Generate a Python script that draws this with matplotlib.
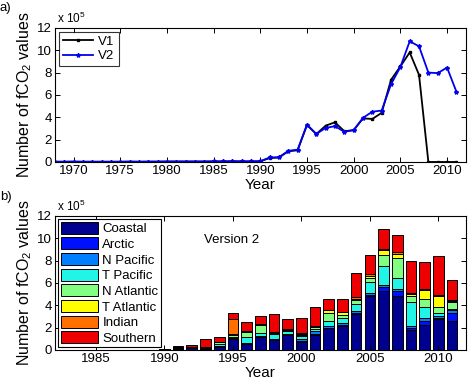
import numpy as np
import matplotlib.pyplot as plt

plt.rcParams['font.family'] = ['Liberation Sans', 'DejaVu Sans']
plt.rcParams['mathtext.fontset'] = 'custom'
plt.rcParams['mathtext.rm'] = 'Liberation Sans'

# panel a: yearly counts (x 1e5)
years_a = np.arange(1968, 2012)
v1 = [0.02, 0.02, 0.03, 0.02, 0.02, 0.02, 0.02, 0.02, 0.03, 0.02, 0.03, 0.03,
      0.04, 0.04, 0.04, 0.04, 0.04, 0.05, 0.05, 0.06, 0.05, 0.05, 0.06,
      0.35, 0.4, 0.95, 1.05, 3.3, 2.5, 3.25, 3.55, 2.75, 2.85, 3.9, 3.85,
      4.4, 7.35, 8.55, 9.8, 7.8, 0.0, 0.0, 0.0, 0.0]
v2 = [0.02, 0.02, 0.03, 0.02, 0.02, 0.02, 0.02, 0.02, 0.03, 0.02, 0.03, 0.03,
      0.04, 0.04, 0.04, 0.04, 0.04, 0.05, 0.05, 0.06, 0.05, 0.05, 0.06,
      0.4, 0.42, 1.0, 1.1, 3.35, 2.5, 3.05, 3.2, 2.7, 2.85, 3.95, 4.5,
      4.6, 6.95, 8.5, 10.8, 10.35, 8.0, 7.95, 8.45, 6.3]

# panel b: version 2 by region (x 1e5)
years_b = np.arange(1982, 2012)
regions = ['Coastal', 'Arctic', 'N Pacific', 'T Pacific', 'N Atlantic',
           'T Atlantic', 'Indian', 'Southern']
colors = ['#00008F', '#0010FF', '#0080FF', '#20F5E8', '#80FF80',
          '#FFFF00', '#FF7000', '#EE0000']
#            1982..1990 (9 yrs)                      1991..2011
coastal  = [0.01, 0.01, 0.01, 0.02, 0.02, 0.03, 0.02, 0.03, 0.05,
            0.1, 0.15, 0.12, 0.3, 0.96, 0.55, 1.15, 0.85, 1.32, 0.72, 1.35,
            1.95, 2.1, 3.2, 4.8, 5.25, 4.8, 1.8, 2.2, 2.75, 2.6]
arctic   = [0]*9 + [0.02, 0.025, 0.02, 0.02, 0.05, 0.03, 0.04, 0.05, 0.04,
            0.1, 0.1, 0.05, 0.15, 0.1, 0.15, 0.4, 0.45, 0.15, 0.4, 0.1, 0.7]
npacific = [0]*9 + [0.02, 0.025, 0.02, 0.03, 0.08, 0.07, 0.08, 0.1, 0.1,
            0.12, 0.2, 0.15, 0.2, 0.15, 0.15, 0.2, 0.2, 0.15, 0.25, 0.15, 0.25]
tpacific = [0]*9 + [0.02, 0.025, 0.03, 0.15, 0.1, 0.5, 0.25, 0.4, 0.22,
            0.3, 0.2, 0.48, 0.45, 0.7, 1.0, 1.7, 1.0, 2.2, 1.0, 0.3, 0.15]
natlantic = [0]*9 + [0.02, 0.025, 0.05, 0.2, 0.15, 0.45, 0.75, 0.1, 0.1,
             0.1, 0.2, 0.65, 0.25, 0.35, 0.35, 0.95, 1.8, 0.55, 0.75, 0.55, 0.55]
tatlantic = [0]*9 + [0.02, 0.025, 0.02, 0.03, 0.05, 0.03, 0.03, 0.03, 0.03,
             0.05, 0.05, 0.25, 0.2, 0.1, 0.15, 0.4, 0.3, 0.15, 0.75, 1.0, 0.15]
indian   = [0]*9 + [0.02, 0.025, 0.02, 0.02, 1.35, 0.1, 0.04, 0.05, 0.1,
            0.15, 0.03, 0.03, 0.05, 0.1, 0.15, 0.1, 0.2, 0.1, 0.1, 0.1, 0.1]
southern = [0]*9 + [0.15, 0.15, 0.67, 0.38, 0.52, 0.77, 0.72, 1.62, 0.85,
            1.36, 1.75, 0.96, 1.2, 2.2, 1.7, 1.8, 1.55, 2.9, 2.45, 3.45, 1.8]
stack = [coastal, arctic, npacific, tpacific, natlantic, tatlantic, indian, southern]

fig = plt.figure(figsize=(4.69, 3.82), dpi=100)
fs = 9.5

def style(ax):
    ax.tick_params(direction='in', top=True, right=True, labelsize=fs,
                   length=3.5, width=0.7, pad=2)
    for s in ax.spines.values():
        s.set_linewidth(0.8)
    ax.set_ylim(0, 12)
    ax.set_yticks(range(0, 13, 2))
    ax.set_xlabel('Year', fontsize=11, labelpad=1)
    ax.set_ylabel('Number of fCO$_2$ values', fontsize=11.5, labelpad=2)
    ax.text(0.005, 1.012, r'x 10$^5$', transform=ax.transAxes, fontsize=8.5,
            ha='left', va='bottom')

# top panel
ax1 = fig.add_axes([0.117, 0.576, 0.876, 0.351])
ax1.plot(years_a, v1, '-s', color='black', lw=1.3, ms=1.8, label='V1')
ax1.plot(years_a, v2, '-*', color='#0000EE', lw=1.3, ms=3.0, label='V2')
ax1.set_xlim(1968, 2012)
ax1.set_xticks(range(1970, 2011, 5))
style(ax1)
leg = ax1.legend(loc='upper left', fontsize=fs, fancybox=False, handlelength=2.3,
                 borderaxespad=0.3, labelspacing=0.15, borderpad=0.3,
                 handletextpad=0.4)
leg.get_frame().set_edgecolor('black')
leg.get_frame().set_linewidth(0.8)

# bottom panel
ax2 = fig.add_axes([0.117, 0.084, 0.876, 0.351])
bottom = np.zeros(len(years_b))
for name, vals, c in zip(regions, stack, colors):
    ax2.bar(years_b, vals, width=0.78, bottom=bottom, color=c, edgecolor='black',
            linewidth=0.7, label=name)
    bottom += np.array(vals)
ax2.set_xlim(1982, 2012)
ax2.set_xticks(range(1985, 2011, 5))
style(ax2)
ax2.text(0.43, 0.82, 'Version 2', transform=ax2.transAxes, fontsize=fs,
         ha='center', va='center')
leg2 = ax2.legend(loc='upper left', fontsize=fs, fancybox=False, handlelength=2.8,
                  handleheight=1.0, borderaxespad=0.25, labelspacing=0.17,
                  borderpad=0.2, handletextpad=0.35)
leg2.get_frame().set_edgecolor('black')
leg2.get_frame().set_linewidth(0.8)
leg2.get_frame().set_alpha(1)

fig.text(0.0, 0.995, 'a)', fontsize=fs, ha='left', va='top')
fig.text(0.0, 0.5, 'b)', fontsize=fs, ha='left', va='top')

fig.savefig('out.png', dpi=100)
